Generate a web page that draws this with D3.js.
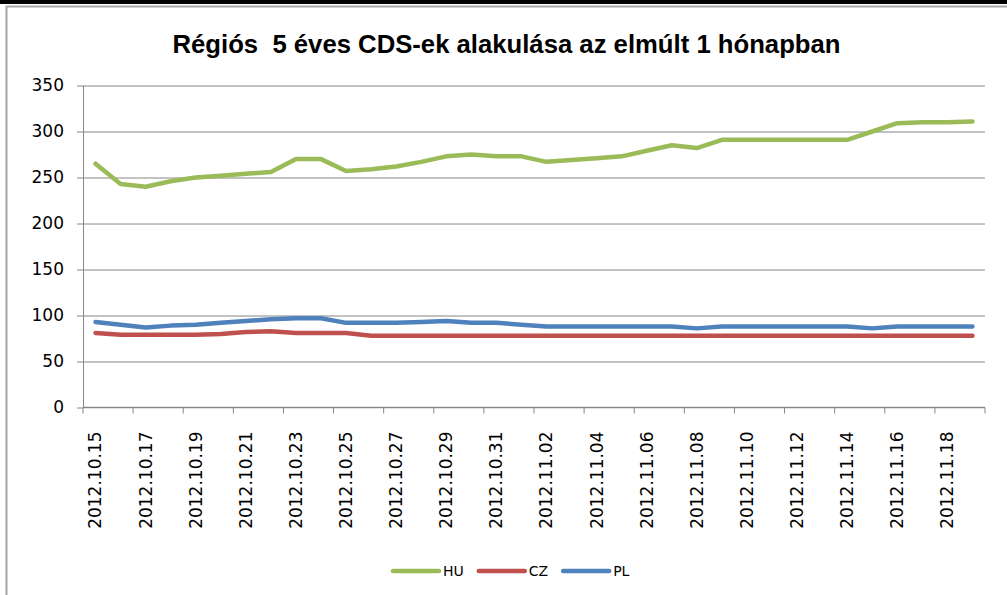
<!DOCTYPE html>
<html>
<head>
<meta charset="utf-8">
<script src="https://cdn.jsdelivr.net/npm/d3@7"></script>
<style>
    body { margin: 0; background: #fff; }
    svg { display: block; }
    .axes path, .axes line { stroke: #868686; }
    .grid line { stroke: #868686; }
    .grid path { stroke: none; }
    .line { fill: none; stroke-width: 4.5; stroke-linejoin: round; stroke-linecap: round; }
</style>
</head>
<body>
<script>
const W = 1007, H = 595;
const margin = { top: 85.5, right: 22, bottom: 187.5, left: 83 },
    width = W - margin.left - margin.right,
    height = H - margin.top - margin.bottom;

const title = 'Régiós  5 éves CDS-ek alakulása az elmúlt 1 hónapban';

const dates = [
    '2012.10.15', '2012.10.16', '2012.10.17', '2012.10.18', '2012.10.19', '2012.10.20',
    '2012.10.21', '2012.10.22', '2012.10.23', '2012.10.24', '2012.10.25', '2012.10.26',
    '2012.10.27', '2012.10.28', '2012.10.29', '2012.10.30', '2012.10.31', '2012.11.01',
    '2012.11.02', '2012.11.03', '2012.11.04', '2012.11.05', '2012.11.06', '2012.11.07',
    '2012.11.08', '2012.11.09', '2012.11.10', '2012.11.11', '2012.11.12', '2012.11.13',
    '2012.11.14', '2012.11.15', '2012.11.16', '2012.11.17', '2012.11.18', '2012.11.19'
];

const HU = [265, 243, 240, 246, 250, 252, 254, 256, 270, 270, 257, 259,
    262, 267, 273, 275, 273, 273, 267, 269, 271, 273, 279, 285,
    282, 291, 291, 291, 291, 291, 291, 300, 309, 310, 310, 311];
const CZ = [81, 79, 79, 79, 79, 80, 82, 83, 81, 81, 81, 78,
    78, 78, 78, 78, 78, 78, 78, 78, 78, 78, 78, 78,
    78, 78, 78, 78, 78, 78, 78, 78, 78, 78, 78, 78];
const PL = [93, 90, 87, 89, 90, 92, 94, 96, 97, 97, 92, 92,
    92, 93, 94, 92, 92, 90, 88, 88, 88, 88, 88, 88,
    86, 88, 88, 88, 88, 88, 88, 86, 88, 88, 88, 88];

const yTicks = [0, 50, 100, 150, 200, 250, 300, 350];

const series = [
    { name: 'HU', values: HU, color: '#9BBB59' },
    { name: 'CZ', values: CZ, color: '#C0504D' },
    { name: 'PL', values: PL, color: '#4F81BD' }
];

const svg = d3.select('body').append('svg')
    .attr('width', W)
    .attr('height', H);

// frame
svg.append('rect').attr('x', 0).attr('y', 0).attr('width', W).attr('height', 4).attr('fill', '#000');
svg.append('line').attr('x1', 6.5).attr('x2', 6.5).attr('y1', 6).attr('y2', H).attr('stroke', '#a6a6a6').attr('stroke-width', 2);
svg.append('line').attr('x1', 6).attr('x2', W).attr('y1', 6.5).attr('y2', 6.5).attr('stroke', '#a6a6a6').attr('stroke-width', 2);

// title
svg.append('text')
    .attr('x', W / 2 + 3)
    .attr('y', 53)
    .attr('text-anchor', 'middle')
    .attr('textLength', 668)
    .attr('lengthAdjust', 'spacingAndGlyphs')
    .style('font-family', 'Liberation Sans, Arial, sans-serif')
    .style('font-weight', 'bold')
    .style('font-size', '26px')
    .style('white-space', 'pre')
    .text(title);

const g = svg.append('g')
    .attr('transform', 'translate(' + margin.left + ',' + margin.top + ')');

const xScale = d3.scaleBand().domain(dates).range([0, width]);
const yScale = d3.scaleLinear().domain([0, 350]).range([height, 0]);

// gridlines
g.append('g')
    .attr('class', 'grid')
    .call(d3.axisLeft(yScale).tickValues(yTicks.slice(1)).tickSize(-width).tickFormat(''));

// y axis
const yAxis = g.append('g')
    .attr('class', 'axes')
    .call(d3.axisLeft(yScale).tickValues(yTicks).tickSize(6).tickPadding(13).tickSizeOuter(0));
yAxis.selectAll('text')
    .style('font-family', 'DejaVu Sans, sans-serif')
    .style('font-size', '17px')
    .attr('fill', '#000');

// x axis: ticks at band boundaries every 2 days, labels at band centers
const labelled = dates.filter((d, i) => i % 2 === 0);
const xAxis = g.append('g')
    .attr('class', 'axes')
    .attr('transform', 'translate(0,' + height + ')');
xAxis.append('line')
    .attr('x1', 0).attr('x2', width)
    .attr('y1', 0).attr('y2', 0)
    .attr('stroke-width', 1.5);
xAxis.selectAll('.tick')
    .data(labelled.concat(['end']))
    .enter().append('line')
    .attr('class', 'tick')
    .attr('x1', d => d === 'end' ? width : xScale(d))
    .attr('x2', d => d === 'end' ? width : xScale(d))
    .attr('y1', 0).attr('y2', 6);
xAxis.selectAll('.xlabel')
    .data(labelled)
    .enter().append('text')
    .attr('class', 'xlabel')
    .attr('transform', d => 'translate(' + (xScale(d) + xScale.bandwidth() / 2) + ',24) rotate(-90)')
    .attr('dy', '0.35em')
    .attr('text-anchor', 'end')
    .style('font-family', 'DejaVu Sans, sans-serif')
    .style('font-size', '17px')
    .text(d => d);

// lines
const line = d3.line()
    .x((d, i) => xScale(dates[i]) + xScale.bandwidth() / 2)
    .y(d => yScale(d));

g.selectAll('.series')
    .data(series)
    .enter().append('path')
    .attr('class', 'line')
    .attr('d', d => line(d.values))
    .style('stroke', d => d.color);

// legend
const legend = svg.append('g').attr('class', 'legend');
const items = legend.selectAll('g')
    .data(series)
    .enter().append('g');
items.append('line')
    .attr('x1', 0).attr('x2', 46)
    .attr('y1', 0).attr('y2', 0)
    .attr('stroke', d => d.color)
    .attr('stroke-width', 4.5)
    .attr('stroke-linecap', 'round');
items.append('text')
    .attr('x', 50)
    .attr('dy', '0.35em')
    .style('font-family', 'DejaVu Sans, sans-serif')
    .style('font-size', '14px')
    .text(d => d.name);
let lx = 393;
items.each(function () {
    const tw = d3.select(this).select('text').node().getComputedTextLength();
    d3.select(this).attr('transform', 'translate(' + lx + ',571)');
    lx += 50 + tw + 15;
});
</script>
</body>
</html>
